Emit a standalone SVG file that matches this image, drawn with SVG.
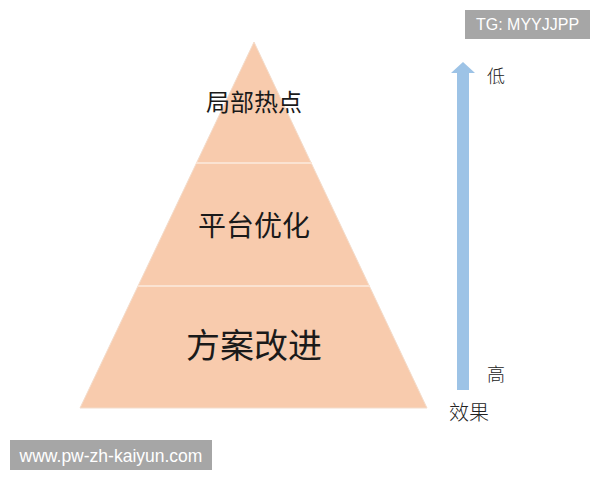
<svg xmlns="http://www.w3.org/2000/svg" width="600" height="480" viewBox="0 0 600 480">
<style>
.cjk{font-family:"Noto Sans CJK SC","Noto Sans",sans-serif;fill:#1a1a1a}
.lbl{font-family:"Noto Sans CJK SC",sans-serif;fill:#222;font-weight:300}
.wm{font-family:"Liberation Sans","Noto Sans",sans-serif;fill:#ffffff;font-size:16px}
.tier{fill:#F8CBAD}
.div{stroke:#FBE3D2;stroke-width:2}
</style>
<rect width="600" height="480" fill="#ffffff"/>
<g id="pyramid">
  <polygon class="tier" points="254,42 80,408 427,408" stroke="#F3DCCB" stroke-width="1"/>
</g>
<g id="connectors">
  <line class="div" x1="196" y1="163" x2="312" y2="163"/>
  <line class="div" x1="138" y1="286" x2="370" y2="286"/>
</g>
<g id="tier-top">
  <text class="cjk" x="254" y="111" font-size="24" text-anchor="middle">局部热点</text>
</g>
<g id="tier-mid">
  <text class="cjk" x="254" y="236" font-size="28" text-anchor="middle">平台优化</text>
</g>
<g id="tier-bottom">
  <text class="cjk" x="254" y="358" font-size="34" text-anchor="middle">方案改进</text>
</g>
<g id="arrow">
  <polygon points="457,390 469,390 469,73 475,73 463,62 451,73 457,73" fill="#9DC3E6"/>
</g>
<g id="labels">
  <text class="lbl" x="487" y="83" font-size="18">低</text>
  <text class="lbl" x="487" y="381" font-size="18">高</text>
  <text class="lbl" x="449" y="420" font-size="20">效果</text>
</g>
<g id="watermark-tg">
  <rect x="465" y="10" width="125" height="29" fill="#A6A6A6"/>
  <text class="wm" x="527.5" y="30" text-anchor="middle">TG: MYYJJPP</text>
</g>
<g id="watermark-www">
  <rect x="10" y="440" width="202" height="30" fill="#A6A6A6"/>
  <text class="wm" x="111" y="461.5" text-anchor="middle" font-size="17.5" style="font-size:17.5px">www.pw-zh-kaiyun.com</text>
</g>
</svg>
